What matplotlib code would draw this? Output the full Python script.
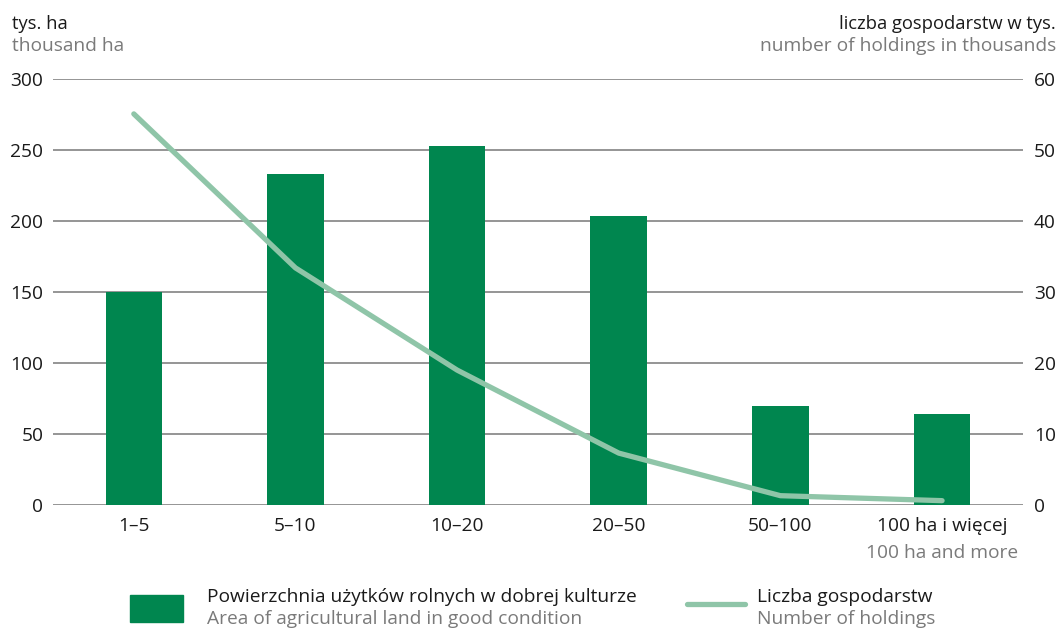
import matplotlib.pyplot as plt
from matplotlib.patches import Rectangle
from matplotlib.lines import Line2D

# data
categories = ["1–5", "5–10", "10–20", "20–50", "50–100", "100 ha i więcej"]
area = [150, 233, 253, 203.5, 70, 64]          # tys. ha
holdings = [55.1, 33.4, 19.0, 7.3, 1.3, 0.6]   # tys. gospodarstw
left_ticks = [0, 50, 100, 150, 200, 250, 300]
right_ticks = [0, 10, 20, 30, 40, 50, 60]

bar_color = "#00864f"
line_color = "#8fc5a8"
grid_color = "#8c8c8c"
dark = "#1a1a1a"
grey = "#7a7a7a"
fs = 13.8

plt.rcParams["font.family"] = ["Open Sans", "DejaVu Sans"]

fig = plt.figure(figsize=(10.6, 6.28), dpi=100)
ax = fig.add_axes([0.05, 0.196, 0.915, 0.678])
x = list(range(len(categories)))

for t in left_ticks:
    ax.axhline(t, color=grid_color, lw=1.3, zorder=1)
ax.bar(x, area, width=0.35, color=bar_color, zorder=2)
ax.set_xlim(-0.5, 5.5)
ax.set_ylim(0, 300)
ax.set_yticks(left_ticks)
ax.set_xticks(x)
ax.set_xticklabels(categories)
ax.tick_params(axis="x", length=0, labelsize=fs, colors=dark, pad=9)
ax.tick_params(axis="y", length=0, labelsize=fs, colors=dark, pad=7)
for s in ax.spines.values():
    s.set_visible(False)

ax2 = ax.twinx()
ax2.plot(x, holdings, color=line_color, lw=3.8, solid_capstyle="round",
         solid_joinstyle="round", zorder=3)
ax2.set_ylim(0, 60)
ax2.set_yticks(right_ticks)
ax2.tick_params(axis="y", length=0, labelsize=fs, colors=dark, pad=8)
for s in ax2.spines.values():
    s.set_visible(False)

# sub label under last category
ax.text(5, -0.113, "100 ha and more", transform=ax.get_xaxis_transform(),
        ha="center", va="center", fontsize=fs, color=grey)

# axis titles
fig.text(0.011, 0.962, "tys. ha", fontsize=13.2, color=dark, va="center")
fig.text(0.011, 0.927, "thousand ha", fontsize=fs, color=grey, va="center")
fig.text(0.996, 0.962, "liczba gospodarstw w tys.", fontsize=13.2, color=dark,
         va="center", ha="right")
fig.text(0.996, 0.927, "number of holdings in thousands", fontsize=fs,
         color=grey, va="center", ha="right")

# legend
fig.patches.append(Rectangle((0.123, 0.01), 0.05, 0.043, transform=fig.transFigure,
                             color=bar_color))
fig.text(0.195, 0.05, "Powierzchnia użytków rolnych w dobrej kulturze",
         fontsize=fs, color=dark, va="center")
fig.text(0.195, 0.015, "Area of agricultural land in good condition",
         fontsize=fs, color=grey, va="center")
fig.lines.append(Line2D([0.648, 0.703], [0.038, 0.038], transform=fig.transFigure,
                        color=line_color, lw=3.8, solid_capstyle="round"))
fig.text(0.714, 0.05, "Liczba gospodarstw", fontsize=fs, color=dark, va="center")
fig.text(0.714, 0.015, "Number of holdings", fontsize=fs, color=grey, va="center")

fig.savefig("out.png", dpi=100)
